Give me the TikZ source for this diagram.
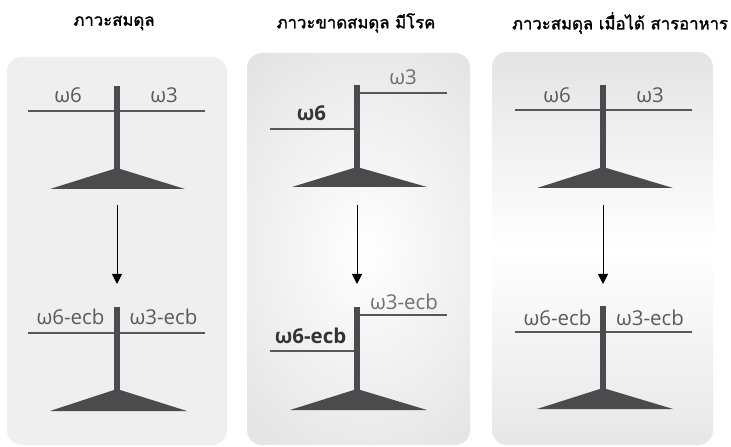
\documentclass[tikz,border=0pt]{standalone}
\usepackage{fontspec}
\setmainfont{Open Sans}
\newfontfamily\thaifont[Script=Thai,FakeBold=1.6]{Loma}
\usetikzlibrary{arrows.meta}
\definecolor{ink}{HTML}{4B4B4E}
\definecolor{rule}{HTML}{58585A}
\definecolor{lbl}{HTML}{5A5A5C}
\definecolor{lbllight}{HTML}{707072}
\definecolor{lbldark}{HTML}{343436}
\definecolor{panelgray}{HTML}{EFEFEF}
\definecolor{softgray}{HTML}{E4E4E4}
\tikzset{
  title/.style={font=\thaifont\fontsize{16.8}{16.8}\selectfont, text=black, inner sep=0pt},
  wlabel/.style={font=\fontsize{20.5}{20.5}\selectfont, text=lbl, inner sep=0pt, anchor=base},
  wbold/.style={wlabel, font=\bfseries\fontsize{20.5}{20.5}\selectfont, text=lbldark},
  wlight/.style={wlabel, text=lbllight},
  stem/.style={draw=ink, line width=5.3bp},
  beam/.style={draw=rule, line width=1.8bp},
  foot/.style={fill=ink, draw=none},
  flow/.style={draw=black, line width=1bp, -{Triangle[length=10bp,width=10bp]}},
  panel/.style={rounded corners=15bp, draw=none}
}
\begin{document}
\begin{tikzpicture}[x=1bp, y=-1bp]
\useasboundingbox (0,0) rectangle (731,447);
\fill[white] (0,0) rectangle (731,447);

% panels
\fill[panel, panelgray] (7,57) rectangle (227,445);
\begin{scope}
  \clip[panel] (247,53) rectangle (470,445);
  \shade[inner color=white, outer color=softgray, shading=radial]
    (190,10) rectangle (540,490);
\end{scope}
\shade[panel, top color=softgray, bottom color=softgray!90, middle color=white]
  (492,52) rectangle (713,445);

% titles
\node[title] (t1) at (114,23) {ภาวะสมดุล};
\node[title] (t2) at (356,23) {ภาวะขาดสมดุล มีโรค};
\node[title] (t3) at (620,23) {ภาวะสมดุล เมื่อได้ สารอาหาร};

% ---------- panel 1 ----------
% upper balance
\draw[beam] (28,111) -- (205,111);
\draw[stem] (117,86) -- (117,170);
\fill[foot] (50,189) -- (117,168) -- (185,189) -- cycle;
\node[wlabel] (a6) at (68,103) {ω6};
\node[wlabel] (a3) at (164,103) {ω3};
% lower balance
\draw[beam] (28,333) -- (205,333);
\draw[stem] (117,307) -- (117,392);
\fill[foot] (50,411) -- (117,389) -- (187,411) -- cycle;
\node[wlabel] (b6) at (70.5,325) {ω6-ecb};
\node[wlabel] (b3) at (163.5,325) {ω3-ecb};
\coordinate (p1s) at (117,205);
\coordinate (p1e) at (117,284);
\draw[flow] (p1s) -- (p1e);

% ---------- panel 2 ----------
% upper, tilted
\draw[beam] (357,93) -- (447,93);
\draw[beam] (270,129) -- (357,129);
\draw[stem] (357,85) -- (357,169);
\fill[foot] (292,187) -- (357,167) -- (427,187) -- cycle;
\node[wlight] (c3) at (403,85) {ω3};
\node[wbold] (c6) at (311.5,121) {ω6};
% lower, tilted
\draw[beam] (357,315) -- (447,315);
\draw[beam] (270,351) -- (357,351);
\draw[stem] (357,307) -- (357,391);
\fill[foot] (290,410) -- (357,389) -- (427,410) -- cycle;
\node[wlight] (d3) at (404,310) {ω3-ecb};
\node[wbold] (d6) at (310.5,344) {ω6-ecb};
\coordinate (p2s) at (357,205);
\coordinate (p2e) at (357,284);
\draw[flow] (p2s) -- (p2e);

% ---------- panel 3 ----------
\draw[beam] (515,110) -- (692,110);
\draw[stem] (603,85) -- (603,169);
\fill[foot] (537,188) -- (603,167) -- (673,188) -- cycle;
\node[wlabel] (e6) at (557,103) {ω6};
\node[wlabel] (e3) at (650,103) {ω3};
\draw[beam] (515,332) -- (692,332);
\draw[stem] (603,306) -- (603,391);
\fill[foot] (537,409) -- (603,388) -- (673,409) -- cycle;
\node[wlabel] (f6) at (557.5,326) {ω6-ecb};
\node[wlabel] (f3) at (650,326) {ω3-ecb};
\coordinate (p3s) at (603,205);
\coordinate (p3e) at (603,284);
\draw[flow] (p3s) -- (p3e);
\end{tikzpicture}
\end{document}
